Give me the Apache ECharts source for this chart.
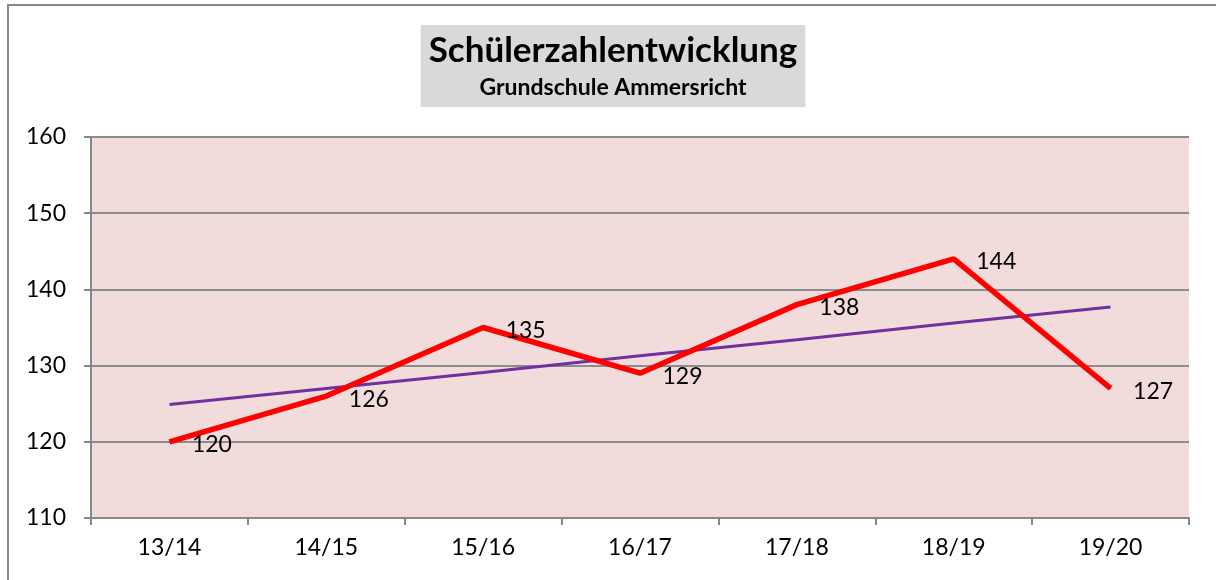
<!DOCTYPE html>
<html>
	<head>
		<meta charset="utf-8">
		<title>Schülerzahlentwicklung</title>
		<script src="https://cdn.jsdelivr.net/npm/echarts@6/dist/echarts.min.js"></script>
		<style>
			body { margin: 0; background: #fff; }
		</style>
	</head>
	<body>
		<div id="main" style="width: 1216px; height: 580px;"></div>
		<script type="text/javascript">
			// Schuljahre und Schülerzahlen
			var jahre = ['13/14', '14/15', '15/16', '16/17', '17/18', '18/19', '19/20'];
			var schueler = [120, 126, 135, 129, 138, 144, 127];
			// lineare Trendlinie
			var trend = [124.9, 127.0, 129.1, 131.3, 133.4, 135.6, 137.7];

			var schrift = 'Lato';

			var myChart = echarts.init(document.getElementById('main'));

			var option = {
				backgroundColor: '#ffffff',
				textStyle: { fontFamily: schrift },
				animation: false,
				graphic: [
					{
						// Rahmen des Diagrammbereichs
						type: 'rect',
						z: -10,
						shape: { x: 8, y: 5, width: 1400, height: 800 },
						style: { fill: 'none', stroke: '#888888', lineWidth: 2 }
					}
				],
				title: {
					text: 'Schülerzahlentwicklung',
					subtext: 'Grundschule Ammersricht',
					left: 605,
					top: 25,
					padding: [5, 8, 7, 8],
					itemGap: 5,
					backgroundColor: '#d9d9d9',
					textAlign: 'center',
					textStyle: { fontFamily: schrift, fontSize: 35, fontWeight: 'bold', color: '#000', lineHeight: 41 },
					subtextStyle: { fontFamily: schrift, fontSize: 23, fontWeight: 'bold', color: '#000', lineHeight: 24 }
				},
				grid: {
					left: 91,
					right: 27,
					top: 137,
					bottom: 62,
					show: true,
					backgroundColor: '#f2dcdb',
					borderWidth: 0
				},
				xAxis: {
					type: 'category',
					data: jahre,
					boundaryGap: true,
					axisLine: { lineStyle: { color: '#888888', width: 2 } },
					axisTick: { show: true, length: 7, lineStyle: { color: '#888888', width: 2 } },
					axisLabel: { color: '#000', fontSize: 23, margin: 18, fontFamily: schrift }
				},
				yAxis: {
					type: 'value',
					min: 110,
					max: 160,
					interval: 10,
					axisLine: { show: true, lineStyle: { color: '#888888', width: 2 } },
					axisTick: { show: true, length: 7, lineStyle: { color: '#888888', width: 2 } },
					axisLabel: { color: '#000', fontSize: 23, margin: 25, fontFamily: schrift },
					splitLine: { lineStyle: { color: '#8c8c8c', width: 2 } }
				},
				series: [
					{
						name: 'Trend',
						type: 'line',
						data: trend,
						symbol: 'none',
						lineStyle: { color: '#7030a0', width: 3 },
						z: 2
					},
					{
						name: 'Schüler',
						type: 'line',
						data: schueler,
						symbol: 'circle',
						symbolSize: 1,
						showSymbol: true,
						itemStyle: { color: '#ff0000' },
						lineStyle: { color: '#ff0000', width: 5.5 },
						z: 3,
						label: {
							show: true,
							position: 'right',
							distance: 22,
							offset: [0, 3],
							color: '#000',
							fontSize: 23,
							fontFamily: schrift
						}
					}
				]
			};

			myChart.setOption(option);
		</script>
	</body>
</html>
